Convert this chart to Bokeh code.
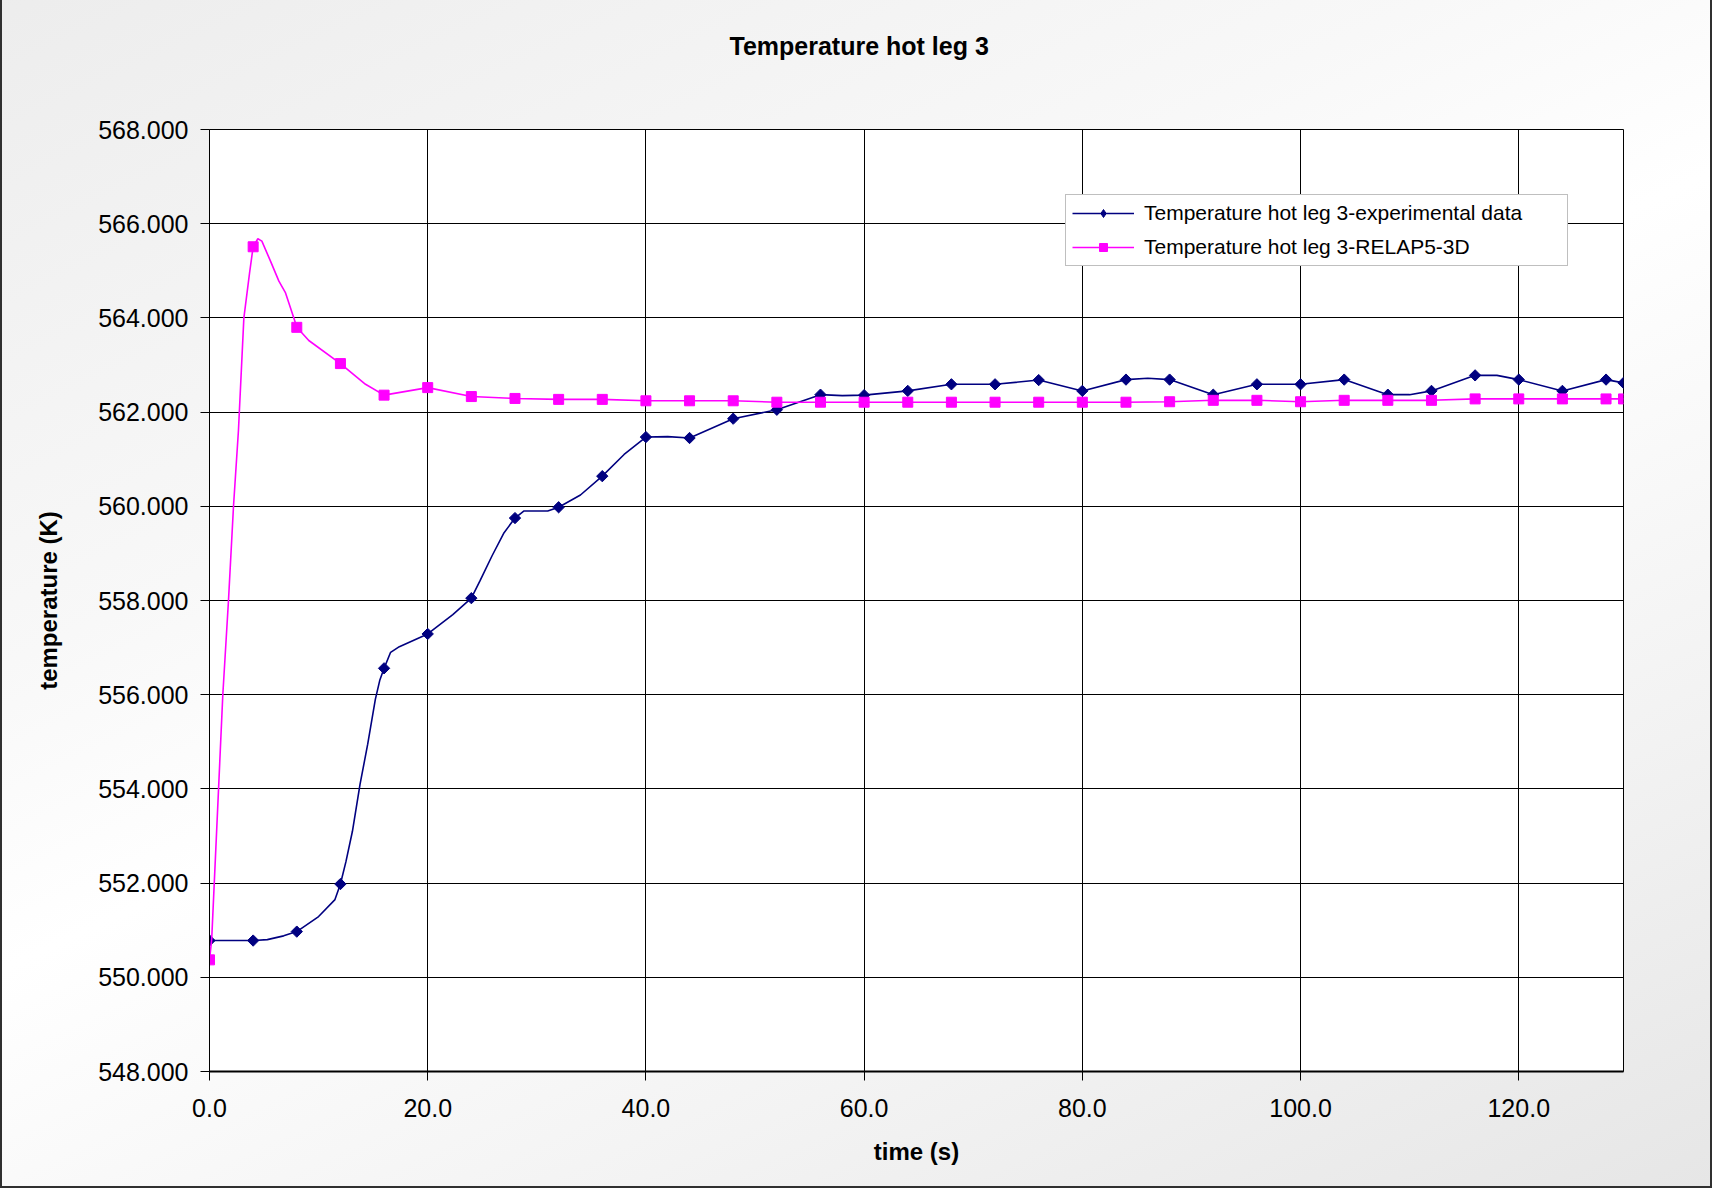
from bokeh.plotting import figure
from bokeh.models import Range1d, FixedTicker, NumeralTickFormatter, Legend, LegendItem
from bokeh.embed import file_html
from bokeh.resources import INLINE
import math

# Measured hot-leg 3 temperature: curve samples (s, K)
exp_curve_t = [0, 4, 5.3, 6.8, 8, 10, 11.5, 12, 12.5, 13.1, 13.8, 14.5, 15.2, 15.6, 16,
               16.6, 17.4, 20, 22.3, 24, 24.8, 25.9, 27, 28, 28.8, 31, 32, 34, 36, 38,
               40, 42, 44, 48, 52, 56, 58, 60, 64, 68, 72, 76, 80, 84, 86, 88, 92, 96,
               100, 104, 108, 110, 112, 116, 118, 120, 124, 128, 129.6]
exp_curve_T = [550.78, 550.78, 550.80, 550.88, 550.97, 551.29, 551.65, 551.98, 552.45, 553.10,
               554.10, 554.95, 555.90, 556.30, 556.56, 556.90, 557.02, 557.29, 557.70, 558.05,
               558.42, 558.95, 559.44, 559.75, 559.90, 559.90, 559.98, 560.24, 560.64, 561.10,
               561.47, 561.48, 561.45, 561.86, 562.05, 562.37, 562.35, 562.36, 562.45, 562.59,
               562.59, 562.68, 562.45, 562.69, 562.72, 562.69, 562.37, 562.59, 562.59, 562.69,
               562.37, 562.37, 562.45, 562.78, 562.78, 562.69, 562.45, 562.69, 562.62]

# RELAP5-3D calculation: curve samples (s, K)
sim_curve_t = [0, 0.2, 0.83, 1.22, 1.74, 2.2, 2.65, 3.15, 3.67, 4, 4.43, 4.8, 5.6, 6.36, 6.97,
               7.73, 8, 9.1, 12, 14.3, 16, 20, 24, 28, 32, 36, 40, 44, 48, 52, 56, 60, 64,
               68, 72, 76, 80, 84, 88, 92, 96, 100, 104, 108, 112, 116, 120, 124, 128, 129.6]
sim_curve_T = [550.37, 550.80, 554.00, 556.00, 558.00, 560.00, 561.60, 564.00, 564.95, 565.51,
               565.68, 565.63, 565.20, 564.78, 564.53, 564.00, 563.80, 563.52, 563.03, 562.59,
               562.36, 562.52, 562.33, 562.29, 562.27, 562.27, 562.24, 562.24, 562.24, 562.21,
               562.21, 562.21, 562.21, 562.21, 562.21, 562.21, 562.21, 562.21, 562.22, 562.25,
               562.25, 562.22, 562.25, 562.25, 562.25, 562.28, 562.28, 562.28, 562.28, 562.28]

# Times that carry a marker on both series
marker_t = [0, 4, 8, 12, 16, 20, 24, 28, 32, 36, 40, 44, 48, 52, 56, 60, 64, 68, 72, 76,
            80, 84, 88, 92, 96, 100, 104, 108, 112, 116, 120, 124, 128, 129.6]

x_ticks = [0, 20, 40, 60, 80, 100, 120]
y_ticks = [548, 550, 552, 554, 556, 558, 560, 562, 564, 566, 568]

exp_lookup = dict(zip(exp_curve_t, exp_curve_T))
sim_lookup = dict(zip(sim_curve_t, sim_curve_T))
exp_mark_T = [exp_lookup[t] for t in marker_t]
sim_mark_T = [sim_lookup[t] for t in marker_t]

FONT = "Liberation Sans"
TOP_SHIFT = 43  # canvas is raised by this much so the title sits high above the frame

p = figure(width=1712, height=1188 + TOP_SHIFT, output_backend="svg", toolbar_location=None,
           x_range=Range1d(0, 129.6), y_range=Range1d(548, 568),
           min_border_left=207, min_border_right=91, min_border_top=129 + TOP_SHIFT,
           min_border_bottom=117,
           background_fill_color="white", border_fill_alpha=0,
           outline_line_color="black", outline_line_width=1,
           title="Temperature hot leg 3")

p.styles = {
    "margin-top": f"-{TOP_SHIFT}px",
    "background": "linear-gradient(155deg, #ececec 0%, #f8f8f8 35%, #ffffff 50%, #f3f3f3 75%, #e6e6e6 100%)",
    "border-left": "2px solid #303030",
    "border-right": "2px solid #303030",
    "border-bottom": "2px solid #303030",
}

p.title.text_font = FONT
p.title.text_font_style = "bold"
p.title.text_font_size = "25px"
p.title.text_color = "black"
p.title.align = "left"
p.title.offset = 520
p.title.standoff = 140

# axes
for ax in (p.xaxis[0], p.yaxis[0]):
    ax.major_label_text_font = FONT
    ax.major_label_text_font_size = "25px"
    ax.major_label_text_color = "black"
    ax.axis_label_text_font = FONT
    ax.axis_label_text_font_style = "bold"
    ax.axis_label_text_font_size = "24px"
    ax.axis_label_text_color = "black"
    ax.major_tick_in = 0
    ax.major_tick_out = 9
    ax.major_tick_line_color = "black"
    ax.minor_tick_line_color = None
    ax.axis_line_color = "black"

p.xaxis.ticker = FixedTicker(ticks=x_ticks)
p.yaxis.ticker = FixedTicker(ticks=y_ticks)
p.xaxis.formatter = NumeralTickFormatter(format="0.0")
p.yaxis.formatter = NumeralTickFormatter(format="0.000")
p.xaxis.axis_label = "time (s)"
p.yaxis.axis_label = "temperature (K)"
p.xaxis.axis_line_width = 2
p.xaxis.major_label_standoff = 18
p.yaxis.major_label_standoff = 12
p.xaxis.axis_label_standoff = 18
p.yaxis.axis_label_standoff = 33

p.xgrid.grid_line_color = "black"
p.ygrid.grid_line_color = "black"
p.xgrid.grid_line_width = 1
p.ygrid.grid_line_width = 1

NAVY = "#000080"
MAGENTA = "#FF00FF"

exp_line = p.line(exp_curve_t, exp_curve_T, line_color=NAVY, line_width=1.6)
exp_pts = p.scatter(marker_t, exp_mark_T, marker="square", angle=math.pi / 4, size=8,
                    fill_color=NAVY, line_color=NAVY)
sim_line = p.line(sim_curve_t, sim_curve_T, line_color=MAGENTA, line_width=1.6)
sim_pts = p.scatter(marker_t, sim_mark_T, marker="square", size=10,
                    fill_color=MAGENTA, line_color=MAGENTA)

# diamond key used only inside the legend entry
exp_key = p.scatter(marker_t, exp_mark_T, marker="diamond", size=14,
                    fill_color=NAVY, line_color=NAVY, visible=False)

legend = Legend(items=[
    LegendItem(label="Temperature hot leg 3-experimental data", renderers=[exp_line, exp_key]),
    LegendItem(label="Temperature hot leg 3-RELAP5-3D", renderers=[sim_line, sim_pts]),
], location=(856, 805))
legend.label_text_font = FONT
legend.label_text_font_size = "21px"
legend.label_text_color = "black"
legend.glyph_width = 62
legend.glyph_height = 20
legend.label_height = 20
legend.label_standoff = 10
legend.label_width = 417
legend.spacing = 10
legend.padding = 6
legend.margin = 0
legend.border_line_color = "#808080"
legend.border_line_width = 1
legend.background_fill_color = "white"
legend.background_fill_alpha = 1
p.add_layout(legend)

open("out.html", "w").write(file_html(p, INLINE))
